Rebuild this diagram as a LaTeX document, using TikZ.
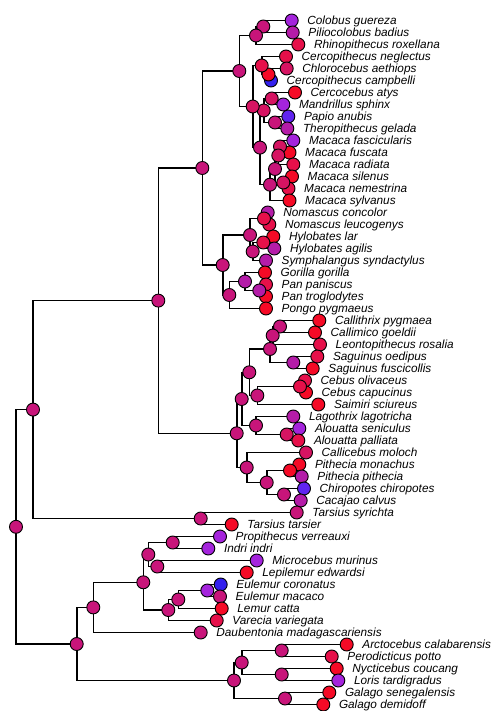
\documentclass[tikz,border=0pt]{standalone}
\usepackage{fontspec}
\setmainfont{Liberation Sans}
\usetikzlibrary{positioning}
\pgfdeclarelayer{edges}
\pgfsetlayers{edges,main}
\definecolor{pkBlue}{HTML}{3320EE}
\definecolor{pkIndigo}{HTML}{6024F0}
\definecolor{pkViolet}{HTML}{A424DC}
\definecolor{pkPurple}{HTML}{B41CA8}
\definecolor{pkMagenta}{HTML}{C8157A}
\definecolor{pkRose}{HTML}{D61462}
\definecolor{pkCrimson}{HTML}{E6104A}
\definecolor{pkRed}{HTML}{F50A26}
\tikzset{
  branch/.style={line width=1.6pt, black},
  tipdot/.style={circle, draw=black, line width=0.9pt, minimum size=13pt, inner sep=0pt, fill=#1},
  taxon/.style={anchor=base west, inner sep=0pt, font=\fontsize{11.8}{12}\selectfont\itshape}
}

\begin{document}
\begin{tikzpicture}[x=1pt,y=-1pt]
\useasboundingbox (0,0) rectangle (493,711);
% tips, top to bottom
\foreach \i/\x/\c/\txt in {
  1/291.7/pkViolet/Colobus guereza, 2/292.7/pkPurple/Piliocolobus badius,
  3/298.3/pkCrimson/Rhinopithecus roxellana, 4/286/pkCrimson/Cercopithecus neglectus,
  5/286.7/pkRose/Chlorocebus aethiops, 6/271/pkBlue/Cercopithecus campbelli,
  7/295/pkRed/Cercocebus atys, 8/283.3/pkViolet/Mandrillus sphinx,
  9/288.3/pkIndigo/Papio anubis, 10/287.3/pkPurple/Theropithecus gelada,
  11/293.3/pkViolet/Macaca fascicularis, 12/289.5/pkRed/Macaca fuscata,
  13/293.3/pkCrimson/Macaca radiata, 14/292/pkRed/Macaca silenus,
  15/288.5/pkCrimson/Macaca nemestrina, 16/289.5/pkRed/Macaca sylvanus,
  17/267.7/pkPurple/Nomascus concolor, 18/269.3/pkCrimson/Nomascus leucogenys,
  19/273.3/pkRed/Hylobates lar, 20/274.3/pkPurple/Hylobates agilis,
  21/266/pkPurple/Symphalangus syndactylus, 22/265/pkRed/Gorilla gorilla,
  23/266/pkCrimson/Pan paniscus, 24/266/pkRed/Pan troglodytes,
  25/266/pkRed/Pongo pygmaeus, 26/319.3/pkRed/Callithrix pygmaea,
  27/315/pkRed/Callimico goeldii, 28/320/pkCrimson/Leontopithecus rosalia,
  29/317.3/pkCrimson/Saguinus oedipus, 30/312.7/pkRed/Saguinus fuscicollis,
  31/305/pkCrimson/Cebus olivaceus, 32/306/pkRed/Cebus capucinus,
  33/318.3/pkRed/Saimiri sciureus, 34/293.3/pkPurple/Lagothrix lagotricha,
  35/299.3/pkViolet/Alouatta seniculus, 36/298.3/pkCrimson/Alouatta palliata,
  37/306/pkRose/Callicebus moloch, 38/299.3/pkRed/Pithecia monachus,
  39/301.7/pkPurple/Pithecia pithecia, 40/304/pkIndigo/Chiropotes chiropotes,
  41/300.7/pkPurple/Cacajao calvus, 42/296.7/pkMagenta/Tarsius syrichta,
  43/231.7/pkRed/Tarsius tarsier, 44/220/pkViolet/Propithecus verreauxi,
  45/208.3/pkViolet/Indri indri, 46/256.7/pkViolet/Microcebus murinus,
  47/246.7/pkRed/Lepilemur edwardsi, 48/220.7/pkBlue/Eulemur coronatus,
  49/220/pkMagenta/Eulemur macaco, 50/221.7/pkRed/Lemur catta,
  51/216.7/pkCrimson/Varecia variegata, 52/200.7/pkMagenta/Daubentonia madagascariensis,
  53/346.7/pkRed/Arctocebus calabarensis, 54/331.7/pkCrimson/Perodicticus potto,
  55/336.7/pkRed/Nycticebus coucang, 56/338.3/pkViolet/Loris tardigradus,
  57/329.3/pkRed/Galago senegalensis, 58/323.3/pkRed/Galago demidoff}{
  \node[tipdot=\c] (t\i) at (\x,{20.5+12*(\i-1)}) {};
  \node[taxon] (l\i) at ([xshift=15.5pt,yshift=-3.8pt]t\i.center) {\txt};
}
% internal nodes
\node[tipdot=pkMagenta] (colA) at (263.3,26.5) {};
\node[tipdot=pkMagenta] (colB) at (256,35.5) {};
\node[tipdot=pkRed] (cerB) at (268.5,74.5) {};
\node[tipdot=pkCrimson] (cerA) at (261.7,65.5) {};
\node[tipdot=pkRose] (cermad) at (271.7,98.5) {};
\node[tipdot=pkMagenta] (papthe) at (275,122.5) {};
\node[tipdot=pkRose] (papina) at (263.7,110.5) {};
\node[tipdot=pkRose] (mac1) at (280,146.5) {};
\node[tipdot=pkRose] (mac2) at (278.3,155.5) {};
\node[tipdot=pkRose] (mac3) at (283.3,182.5) {};
\node[tipdot=pkMagenta] (mac4) at (275,169) {};
\node[tipdot=pkMagenta] (mac5) at (270,184.7) {};
\node[tipdot=pkMagenta] (papini) at (260,147.6) {};
\node[tipdot=pkRose] (cerinae) at (252.7,106.5) {};
\node[tipdot=pkMagenta] (cerdae) at (239.3,71) {};
\node[tipdot=pkCrimson] (nom) at (264,218.5) {};
\node[tipdot=pkCrimson] (hyl) at (263.3,242.5) {};
\node[tipdot=pkMagenta] (hylsym) at (252.7,251.5) {};
\node[tipdot=pkMagenta] (hylob) at (250,235) {};
\node[tipdot=pkPurple] (pan) at (259.3,290.5) {};
\node[tipdot=pkPurple] (hominae) at (245,281.5) {};
\node[tipdot=pkMagenta] (hominid) at (229.3,295) {};
\node[tipdot=pkMagenta] (hominoid) at (222.7,265) {};
\node[tipdot=pkMagenta] (catarr) at (202.3,168) {};
\node[tipdot=pkMagenta] (calgoe) at (280,326.5) {};
\node[tipdot=pkMagenta] (calleo) at (272.7,335.5) {};
\node[tipdot=pkPurple] (sag) at (293.3,362.5) {};
\node[tipdot=pkMagenta] (callit) at (270,349) {};
\node[tipdot=pkCrimson] (cebus) at (300,386.5) {};
\node[tipdot=pkMagenta] (cebsai) at (257.3,395.5) {};
\node[tipdot=pkMagenta] (cebidae) at (249.3,372.3) {};
\node[tipdot=pkRose] (alouatta) at (286.7,434.5) {};
\node[tipdot=pkMagenta] (atelid) at (256,425.5) {};
\node[tipdot=pkMagenta] (cebatel) at (241.7,399) {};
\node[tipdot=pkRed] (pith) at (290,470.5) {};
\node[tipdot=pkMagenta] (chicac) at (284,494.5) {};
\node[tipdot=pkMagenta] (pithinae) at (266.7,482.5) {};
\node[tipdot=pkMagenta] (pithid) at (246.7,467.5) {};
\node[tipdot=pkMagenta] (platyr) at (236.7,433.3) {};
\node[tipdot=pkMagenta] (anthro) at (158.3,300.6) {};
\node[tipdot=pkMagenta] (tars) at (200.7,518.5) {};
\node[tipdot=pkMagenta] (haplo) at (33,409.6) {};
\node[tipdot=pkMagenta] (indri) at (172.7,542.5) {};
\node[tipdot=pkMagenta] (chlep) at (157.3,566.5) {};
\node[tipdot=pkMagenta] (indch) at (148.3,554.5) {};
\node[tipdot=pkViolet] (eulem) at (207.3,590.5) {};
\node[tipdot=pkMagenta] (eullem) at (178.3,599.5) {};
\node[tipdot=pkMagenta] (lemurid) at (168.3,610) {};
\node[tipdot=pkMagenta] (lemuroid) at (143.3,582.3) {};
\node[tipdot=pkMagenta] (lemurif) at (93.3,607.4) {};
\node[tipdot=pkMagenta] (arcper) at (281.7,650.5) {};
\node[tipdot=pkMagenta] (nyclor) at (281.7,674.5) {};
\node[tipdot=pkMagenta] (lorisid) at (241.7,662.5) {};
\node[tipdot=pkMagenta] (galago) at (285,698.5) {};
\node[tipdot=pkMagenta] (lorisif) at (234,680.5) {};
\node[tipdot=pkMagenta] (streps) at (76.7,644) {};
\node[tipdot=pkMagenta] (root) at (16,526.8) {};
% branches
\begin{pgfonlayer}{edges}
\foreach \p/\c in {colA/t1, colA/t2, colB/colA, colB/t3, cerB/t5, cerB/t6,
  cerA/t4, cerA/cerB, cermad/t7, cermad/t8, papthe/t9, papthe/t10,
  papina/cermad, papina/papthe, mac1/t11, mac1/t12, mac2/mac1, mac2/t13,
  mac3/t14, mac3/t15, mac4/mac2, mac4/mac3, mac5/mac4, mac5/t16,
  papini/papina, papini/mac5, cerinae/cerA, cerinae/papini,
  cerdae/colB, cerdae/cerinae, nom/t17, nom/t18, hyl/t19, hyl/t20,
  hylsym/hyl, hylsym/t21, hylob/nom, hylob/hylsym, pan/t23, pan/t24,
  hominae/t22, hominae/pan, hominid/hominae, hominid/t25,
  hominoid/hylob, hominoid/hominid, catarr/cerdae, catarr/hominoid,
  calgoe/t26, calgoe/t27, calleo/calgoe, calleo/t28, sag/t29, sag/t30,
  callit/calleo, callit/sag, cebus/t31, cebus/t32, cebsai/cebus, cebsai/t33,
  cebidae/callit, cebidae/cebsai, alouatta/t35, alouatta/t36,
  atelid/t34, atelid/alouatta, cebatel/cebidae, cebatel/atelid,
  pith/t38, pith/t39, chicac/t40, chicac/t41, pithinae/pith, pithinae/chicac,
  pithid/t37, pithid/pithinae, platyr/cebatel, platyr/pithid,
  anthro/catarr, anthro/platyr, tars/t42, tars/t43, haplo/anthro, haplo/tars,
  indri/t44, indri/t45, chlep/t46, chlep/t47, indch/indri, indch/chlep,
  eulem/t48, eulem/t49, eullem/eulem, eullem/t50, lemurid/eullem, lemurid/t51,
  lemuroid/indch, lemuroid/lemurid, lemurif/lemuroid, lemurif/t52,
  arcper/t53, arcper/t54, nyclor/t55, nyclor/t56, lorisid/arcper, lorisid/nyclor,
  galago/t57, galago/t58, lorisif/lorisid, lorisif/galago,
  streps/lemurif, streps/lorisif, root/haplo, root/streps}
  \draw[branch] (\p.center) |- (\c.center);
\end{pgfonlayer}
\end{tikzpicture}
\end{document}
